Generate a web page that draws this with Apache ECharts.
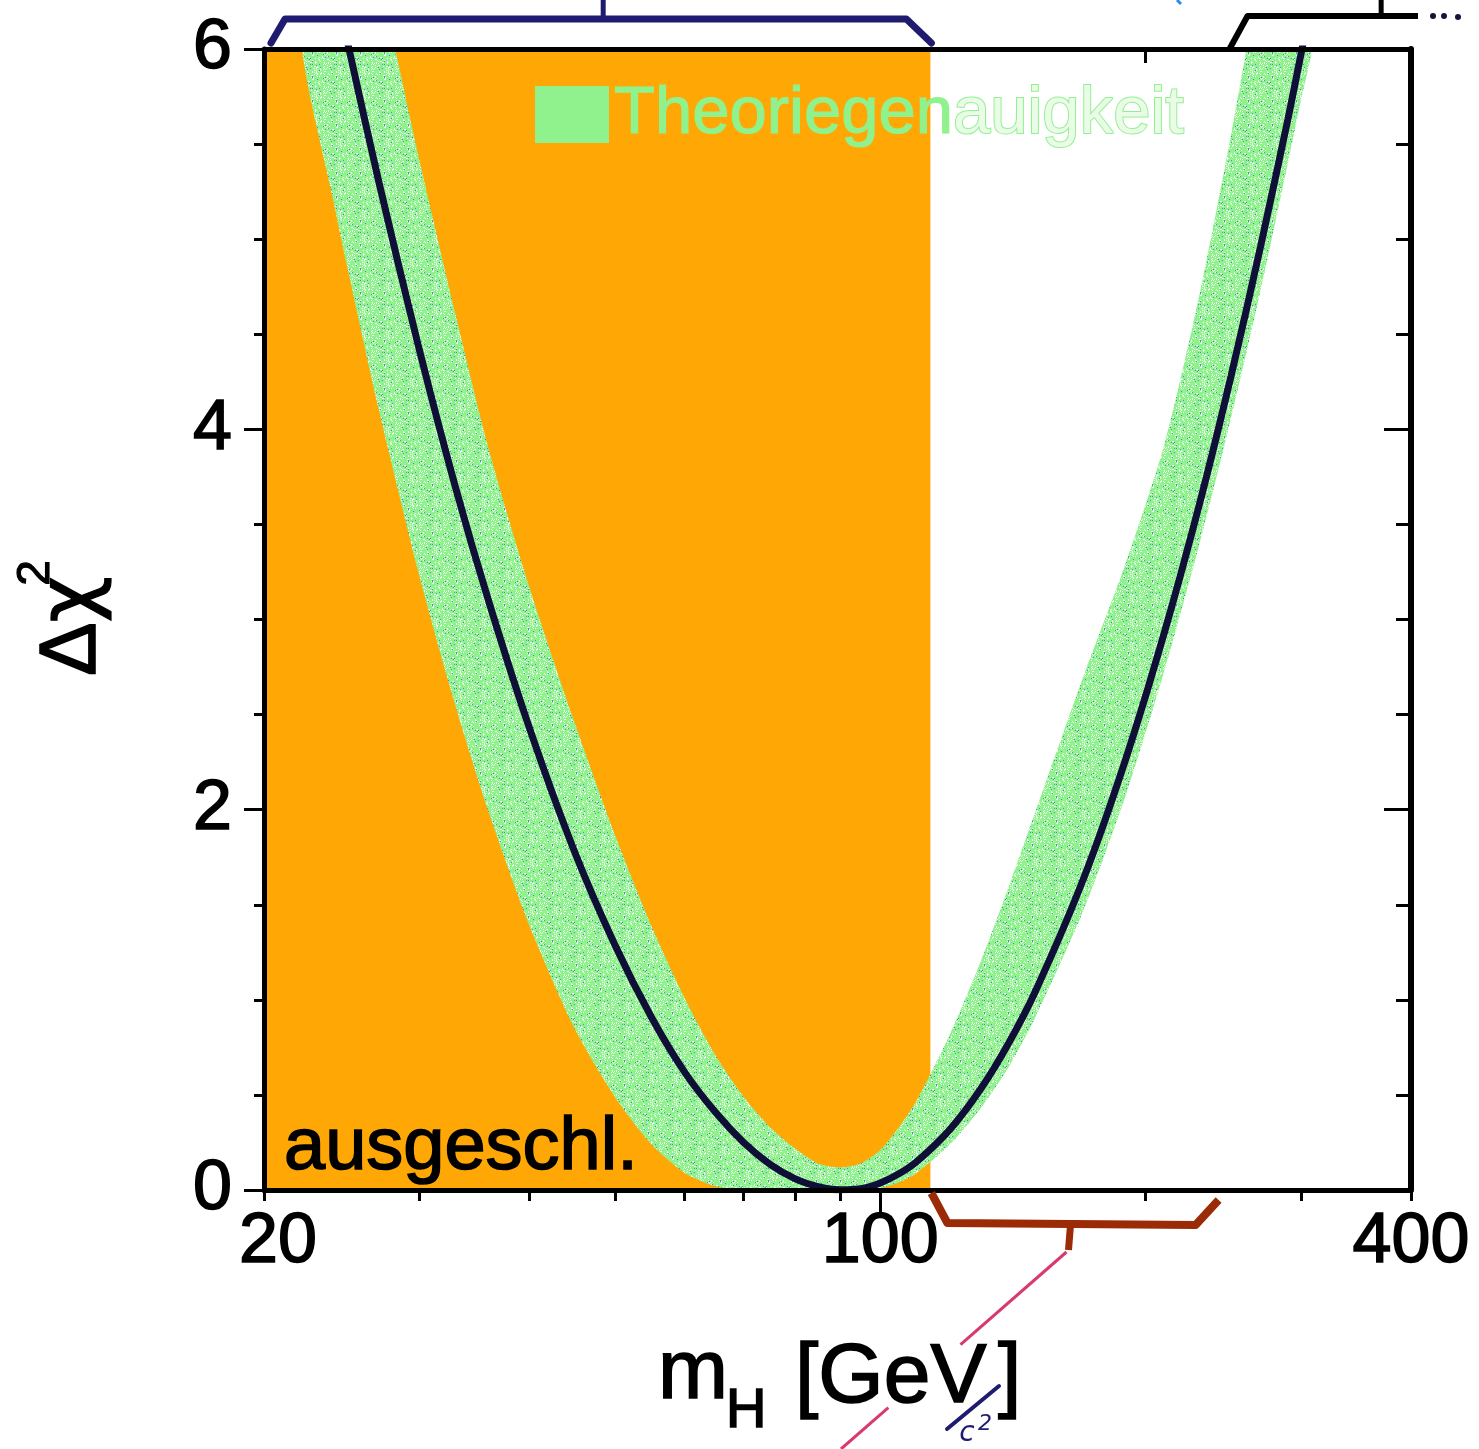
<!DOCTYPE html>
<html>
<head>
<meta charset="utf-8">
<script src="https://cdn.jsdelivr.net/npm/echarts@6/dist/echarts.min.js"></script>
<style>
  html, body { margin: 0; padding: 0; background: #ffffff; }
  #chart { width: 1479px; height: 1449px; }
</style>
</head>
<body>
<div id="chart"></div>
<script>
// Higgs mass scan: Δχ² of the electroweak fit versus m_H
const massGeV   = [22, 24, 25, 27, 30, 33, 36, 40, 45, 50, 55, 60, 65, 70, 75, 80, 85, 90, 95,
                   100, 105, 110, 120, 130, 140, 150, 170, 190, 210, 230, 250, 270, 290, 300, 310];
const deltaChi2 = [7.23, 6.37, 5.99, 5.30, 4.42, 3.69, 3.09, 2.43, 1.78, 1.29, 0.91, 0.62, 0.41, 0.25, 0.135, 0.06, 0.017, 0.001, 0.007,
                   0.037, 0.085, 0.149, 0.319, 0.531, 0.776, 1.045, 1.635, 2.27, 2.93, 3.60, 4.28, 4.96, 5.63, 5.97, 6.30];
// theory-uncertainty band: lower and upper edge of Δχ²
const bandLow   = [6.08, 5.19, 4.80, 4.10, 3.23, 2.54, 1.98, 1.39, 0.85, 0.49, 0.24, 0.09, 0.02, 0, 0, 0, 0, 0, 0,
                   0.01, 0.04, 0.09, 0.24, 0.43, 0.65, 0.91, 1.47, 2.08, 2.73, 3.39, 4.06, 4.73, 5.40, 5.73, 6.06];
const bandHigh  = [8.6, 7.65, 7.22, 6.41, 5.42, 4.60, 3.89, 3.17, 2.46, 1.87, 1.39, 1.01, 0.71, 0.49, 0.33, 0.22, 0.14, 0.12, 0.14,
                   0.21, 0.33, 0.47, 0.82, 1.20, 1.60, 1.99, 2.70, 3.30, 3.92, 4.70, 5.55, 6.42, 7.25, 7.65, 8.05];
// mass ranges (GeV)
const excludedRange   = [20, 114];   // direct-search exclusion
const preferredRange  = [114, 242];  // allowed window marked below the axis
const disfavouredFrom = 249;         // start of the bracket above the frame
// axis ticks and labels
const xTickValues  = [20, 30, 40, 50, 60, 70, 80, 90, 200, 300, 400];
const xLongTicks   = [100];
const xTopTicks    = [200];
const xLabelValues = [20, 100, 400];

const FONT = '"Liberation Sans", Arial, Helvetica, sans-serif';
const ORANGE = '#ffa705';
const GREEN = '#90f28d';
const CURVE = '#100f38';
const INK = '#000000';

// speckled fill for the band
function speckleTile() {
  const n = 24;
  const c = document.createElement('canvas');
  c.width = n; c.height = n;
  const g = c.getContext('2d');
  g.fillStyle = GREEN;
  g.fillRect(0, 0, n, n);
  for (let i = 0; i < n * n; i++) {
    const h = ((i * 2654435761) >>> 0);
    const r = ((h >>> 11) ^ (h >>> 3)) % 100;
    const x = i % n, y = (i / n) | 0;
    if (r < 20) { g.fillStyle = '#e8fce6'; g.fillRect(x, y, 1, 1); }
    else if (r < 23) { g.fillStyle = '#4a8fc8'; g.fillRect(x, y, 1, 1); }
  }
  return c;
}
const bandFill = { image: speckleTile(), repeat: 'repeat' };

const chart = echarts.init(document.getElementById('chart'), null, { renderer: 'canvas' });

const tickStyle = { color: INK, width: 3 };
const heavy = { textBorderColor: INK, textBorderWidth: 1.6 };
const xBase = { type: 'log', logBase: 10, min: 20, max: 400, gridIndex: 0, z: 10,
                splitLine: { show: false }, minorTick: { show: false }, minorSplitLine: { show: false } };

const option = {
  animation: false,
  backgroundColor: '#ffffff',
  grid: { left: 264, right: 68, top: 49, bottom: 259, containLabel: false, outerBoundsMode: 'none' },
  legend: {
    data: ['Theoriegenauigkeit'],
    left: 530, top: 75,
    icon: 'rect', itemWidth: 74, itemHeight: 57,
    selectedMode: false,
    formatter: () => '{a|Theoriegen}{b|auigkeit}',
    textStyle: {
      fontFamily: FONT, fontSize: 67, color: GREEN,
      rich: {
        a: { fontFamily: FONT, fontSize: 67, color: GREEN, textBorderColor: GREEN, textBorderWidth: 1.2 },
        b: { fontFamily: FONT, fontSize: 67, color: '#eafbe8', textBorderColor: GREEN, textBorderWidth: 2 }
      }
    }
  },
  xAxis: [
    Object.assign({}, xBase, {
      position: 'bottom',
      axisLine: { show: true, onZero: false, lineStyle: { color: INK, width: 5 } },
      axisTick: { show: true, customValues: xTickValues, length: 11, lineStyle: tickStyle },
      axisLabel: Object.assign({
        show: true, customValues: xLabelValues, margin: 18,
        fontFamily: FONT, fontSize: 70, color: INK,
        formatter: v => (v === 20 ? '{first|20}' : String(v)),
        rich: { first: Object.assign({ fontFamily: FONT, fontSize: 70, color: INK, padding: [0, 0, 0, 28] }, heavy) }
      }, heavy)
    }),
    Object.assign({}, xBase, {
      position: 'bottom', offset: 0,
      axisLine: { show: false },
      axisTick: { show: true, customValues: xLongTicks, length: 23, lineStyle: tickStyle },
      axisLabel: { show: false }
    }),
    Object.assign({}, xBase, {
      position: 'top',
      axisLine: { show: true, onZero: false, lineStyle: { color: INK, width: 5 } },
      axisTick: { show: true, inside: true, customValues: xTopTicks, length: 14, lineStyle: tickStyle },
      axisLabel: { show: false }
    })
  ],
  yAxis: [
    {
      type: 'value', min: 0, max: 6, interval: 2, position: 'left', z: 10,
      axisLine: { show: true, onZero: false, lineStyle: { color: INK, width: 5 } },
      axisTick: { show: true, length: 20, lineStyle: tickStyle },
      minorTick: { show: true, splitNumber: 4, length: 10, lineStyle: tickStyle },
      axisLabel: Object.assign({ margin: 32, fontFamily: FONT, fontSize: 70, color: INK }, heavy),
      splitLine: { show: false }, minorSplitLine: { show: false }
    },
    {
      type: 'value', min: 0, max: 6, interval: 2, position: 'right', z: 10,
      axisLine: { show: true, onZero: false, lineStyle: { color: INK, width: 6 } },
      axisTick: { show: true, inside: true, length: 27, lineStyle: tickStyle },
      minorTick: { show: true, splitNumber: 4, length: 15, lineStyle: tickStyle },
      axisLabel: { show: false },
      splitLine: { show: false }, minorSplitLine: { show: false }
    }
  ],
  series: [
    {
      // excluded mass region
      name: 'ausgeschl.',
      type: 'custom',
      silent: true, z: 1, clip: true,
      data: [excludedRange],
      encode: { x: [0, 1] },
      renderItem: (params, api) => {
        const a = api.coord([api.value(0), 6]);
        const b = api.coord([api.value(1), 0]);
        return { type: 'rect', shape: { x: a[0], y: a[1], width: b[0] - a[0], height: b[1] - a[1] },
                 style: { fill: ORANGE } };
      }
    },
    {
      // theory band between the lower and upper Δχ² edges
      name: 'Theoriegenauigkeit',
      type: 'custom',
      silent: true, z: 2, clip: true,
      itemStyle: { color: GREEN },
      data: massGeV.map((m, i) => [m, bandLow[i], bandHigh[i]]),
      encode: { x: 0, y: [1, 2] },
      renderItem: (params, api) => {
        if (params.dataIndex !== 0) return null;
        const pts = [];
        for (let i = 0; i < massGeV.length; i++) pts.push(api.coord([massGeV[i], bandLow[i]]));
        for (let i = massGeV.length - 1; i >= 0; i--) pts.push(api.coord([massGeV[i], bandHigh[i]]));
        return { type: 'polygon', shape: { points: pts, smooth: 0.25 }, style: { fill: bandFill } };
      }
    },
    {
      name: 'Δχ²',
      type: 'line',
      silent: true, z: 3, clip: true,
      showSymbol: false, smooth: 0.3,
      lineStyle: { color: CURVE, width: 7 },
      data: massGeV.map((m, i) => [m, deltaChi2[i]])
    }
  ]
};
chart.setOption(option);

// annotations placed from the axis scales
const px = m => chart.convertToPixel({ xAxisIndex: 0 }, m);
const py = v => chart.convertToPixel({ yAxisIndex: 0 }, v);
const yTop = py(6), yBot = py(0);
const e0 = px(excludedRange[0]), e1 = px(excludedRange[1]);
const p0 = px(preferredRange[0]), p1 = px(preferredRange[1]);
const d0 = px(disfavouredFrom), xRight = px(400);
const midTop = (e0 + e1) / 2 + 6;
const midBot = (p0 + p1) / 2 - 4;

const NAVY = '#1f1c70';
const RED = '#9b2a06';
const PINK = '#d8396e';

// pointer from the lower bracket to the unit
const lineStart = [midBot - 4, yBot + 62], lineEnd = [841, 1449];
const lerp = t => [lineStart[0] + (lineEnd[0] - lineStart[0]) * t, lineStart[1] + (lineEnd[1] - lineStart[1]) * t];

const txt = (x, y, text, size, extra) => ({
  type: 'text', z: 20, x, y,
  style: Object.assign({ text, fill: INK, fontFamily: FONT, fontSize: size, align: 'left', verticalAlign: 'middle',
                         stroke: INK, lineWidth: 1.6 }, extra || {})
});

const graphics = [
  // bracket over the excluded region
  { type: 'polyline', z: 20, shape: { points: [[e0 + 7, yTop - 6], [e0 + 21, yTop - 30], [e1 - 24, yTop - 30], [e1 + 1, yTop - 6]] },
    style: { stroke: NAVY, lineWidth: 7, fill: null, lineJoin: 'round', lineCap: 'round' } },
  { type: 'line', z: 20, shape: { x1: midTop, y1: 0, x2: midTop, y2: yTop - 30 }, style: { stroke: NAVY, lineWidth: 5 } },
  // bracket over the upper mass range
  { type: 'polyline', z: 20, shape: { points: [[d0, yTop], [d0 + 18, yTop - 33], [xRight + 7, yTop - 33]] },
    style: { stroke: INK, lineWidth: 6, fill: null, lineJoin: 'round' } },
  { type: 'line', z: 20, shape: { x1: px(370), y1: 0, x2: px(370), y2: yTop - 33 }, style: { stroke: INK, lineWidth: 5 } },
  { type: 'circle', z: 20, shape: { cx: xRight + 22, cy: yTop - 33, r: 3 }, style: { fill: '#15143a' } },
  { type: 'circle', z: 20, shape: { cx: xRight + 33, cy: yTop - 33, r: 3 }, style: { fill: '#15143a' } },
  { type: 'circle', z: 20, shape: { cx: xRight + 47, cy: yTop - 32, r: 3 }, style: { fill: '#15143a' } },
  { type: 'line', z: 20, shape: { x1: 1177, y1: 0, x2: 1181, y2: 4 }, style: { stroke: '#2a8cf0', lineWidth: 3 } },
  // bracket under the allowed window
  { type: 'polyline', z: 20, shape: { points: [[p0 + 1, yBot + 3], [p0 + 17, yBot + 33], [p1 - 23, yBot + 35], [p1, yBot + 10]] },
    style: { stroke: RED, lineWidth: 8, fill: null, lineJoin: 'round' } },
  { type: 'line', z: 20, shape: { x1: midBot, y1: yBot + 35, x2: midBot - 2, y2: yBot + 60 }, style: { stroke: RED, lineWidth: 7 } },
  { type: 'line', z: 20, shape: { x1: lineStart[0], y1: lineStart[1], x2: lerp(0.47)[0], y2: lerp(0.47)[1] }, style: { stroke: PINK, lineWidth: 3 } },
  { type: 'line', z: 20, shape: { x1: lerp(0.79)[0], y1: lerp(0.79)[1], x2: lineEnd[0], y2: lineEnd[1] }, style: { stroke: PINK, lineWidth: 3 } },
  // region label
  txt(284, 1149, 'ausgeschl.', 74),
  // y-axis title
  { type: 'text', z: 20, x: 73, y: 626, rotation: Math.PI / 2,
    style: { text: '{d|Δ}{c|χ}', align: 'center', verticalAlign: 'middle',
             rich: {
               d: { fontFamily: FONT, fontSize: 80, fill: INK, stroke: INK, lineWidth: 1.6 },
               c: { fontFamily: '"DejaVu Sans", sans-serif', fontSize: 80, fill: INK, stroke: INK, lineWidth: 1.2 }
             } } },
  { type: 'text', z: 20, x: 36, y: 573, rotation: Math.PI / 2,
    style: { text: '2', fill: INK, fontFamily: FONT, fontSize: 46, align: 'center', verticalAlign: 'middle', stroke: INK, lineWidth: 1.2 } },
  // x-axis title
  txt(658, 1375, 'm', 84),
  txt(726, 1412, 'H', 56),
  txt(795, 1379, '[GeV', 84),
  txt(998, 1379, ']', 84),
  { type: 'line', z: 21, shape: { x1: 947, y1: 1429, x2: 999, y2: 1386 }, style: { stroke: NAVY, lineWidth: 4, lineCap: 'round' } },
  { type: 'text', z: 21, x: 967, y: 1434,
    style: { text: 'c', fill: NAVY, fontFamily: '"DejaVu Sans", sans-serif', fontStyle: 'italic', fontSize: 28, align: 'center', verticalAlign: 'middle' } },
  { type: 'text', z: 21, x: 985, y: 1424,
    style: { text: '2', fill: NAVY, fontFamily: '"DejaVu Sans", sans-serif', fontStyle: 'italic', fontSize: 22, align: 'center', verticalAlign: 'middle' } }
];
chart.setOption({ graphic: graphics });
</script>
</body>
</html>
